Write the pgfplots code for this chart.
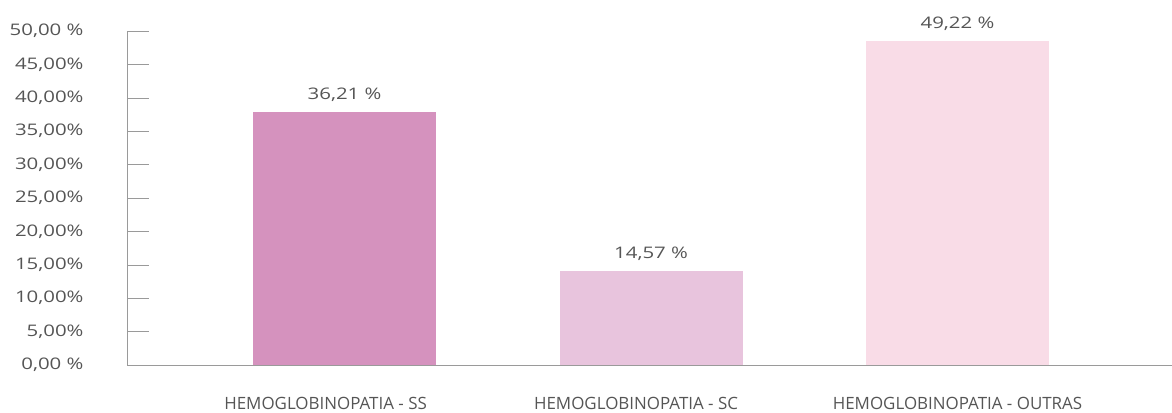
\documentclass[border=0pt]{standalone}
\usepackage{pgfplots}
\pgfplotsset{compat=1.18}
\usepackage{pgfplotstable}
\usepackage{fontspec}
\setmainfont{Open Sans}
\newfontfamily\numfont{Open Sans}[FakeStretch=1.28]
\definecolor{txt}{HTML}{555555}
\definecolor{axc}{HTML}{9A9A9A}
\definecolor{cSS}{HTML}{D592BE}
\definecolor{cSC}{HTML}{E8C4DD}
\definecolor{cOU}{HTML}{F9DCE7}
\pgfplotstableread{
x y lab
0 37.9 {36,21 \%}
1 14.1 {14,57 \%}
2 48.5 {49,22 \%}
}\datatab
\begin{document}
\begin{tikzpicture}[x=1bp,y=1bp]
\useasboundingbox (0,0) rectangle (1172,412);
\begin{axis}[
  at={(127bp,47bp)}, anchor=south west,
  scale only axis, width=1045bp, height=334bp,
  xmin=-0.71, xmax=2.70, ymin=0, ymax=50,
  axis x line=bottom, axis y line=left,
  axis line style={axc, line width=0.8pt, -},
  ytick={0,5,...,50},
  yticklabels={{0,00 \%},{5,00\%},{10,00\%},{15,00\%},{20,00\%},{25,00\%},{30,00\%},{35,00\%},{40,00\%},{45,00\%},{50,00 \%}},
  yticklabel style={font=\numfont\fontsize{16}{17}\selectfont, text=txt, anchor=east, xshift=-40bp},
  ytick style={axc, line width=0.6pt},
  major tick length=22bp, tick align=inside,
  xtick={0,1,2},
  xticklabels={{HEMOGLOBINOPATIA - SS\hspace*{38bp}}, {HEMOGLOBINOPATIA - SC\hspace*{30bp}}, {HEMOGLOBINOPATIA - OUTRAS}},
  xticklabel style={font=\fontsize{17}{18}\selectfont, text=txt, anchor=north, yshift=-7bp},
  x tick style={draw=none},
  ybar, bar width=0.597, bar shift=0pt,
  nodes near coords, point meta=explicit symbolic,
  nodes near coords style={font=\numfont\fontsize{16}{17}\selectfont, text=txt, yshift=7bp},
  clip=false,
]
\addplot[draw=none, fill=cSS] table[x=x, y=y, meta=lab, restrict expr to domain={\thisrow{x}}{0:0}] {\datatab};
\addplot[draw=none, fill=cSC] table[x=x, y=y, meta=lab, restrict expr to domain={\thisrow{x}}{1:1}] {\datatab};
\addplot[draw=none, fill=cOU] table[x=x, y=y, meta=lab, restrict expr to domain={\thisrow{x}}{2:2}] {\datatab};
\end{axis}
\end{tikzpicture}
\end{document}
